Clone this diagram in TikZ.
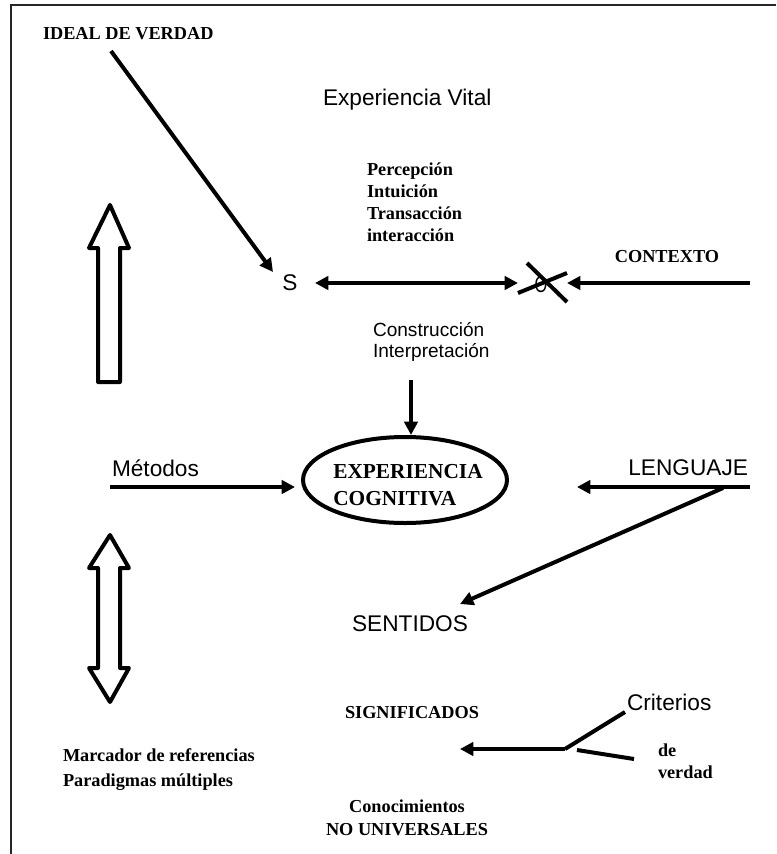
\documentclass[tikz,border=0pt]{standalone}
\usepackage{fontspec}
\setmainfont{Liberation Serif}
\setsansfont{Liberation Sans}
\usetikzlibrary{arrows.meta,shapes.geometric}

\tikzset{
  lbl/.style={inner sep=0pt, outer sep=0pt},
  serifb/.style={lbl, font=\bfseries\fontsize{13.7}{16.5}\selectfont},
  sanslbl/.style={lbl, font=\sffamily\fontsize{17}{20}\selectfont},
  sanssmall/.style={lbl, font=\sffamily\fontsize{14.3}{15.75}\selectfont},
  heavy/.style={line width=3pt, line cap=butt},
  arr/.style={heavy, -{Triangle[length=10pt,width=10pt]}},
  darr/.style={heavy, {Triangle[length=10pt,width=10pt]}-{Triangle[length=10pt,width=10pt]}},
  hollow/.style={line width=3pt, line join=round, fill=white},
  frameline/.style={line width=1.5pt, draw=black!85},
}

\begin{document}
\begin{tikzpicture}[x=0.75pt, y=-0.75pt]
  \useasboundingbox (0,0) rectangle (776,854);

  % open frame: top and left sides only
  \draw[frameline] (776,5) -- (11,5) -- (11,854);

  % ---- labels ----
  \node[serifb, anchor=west] (ideal) at (43,34) {IDEAL DE VERDAD};
  \node[sanslbl, anchor=west] (vital) at (323,100) {Experiencia Vital};
  \node[serifb, anchor=west, align=left] (proc) at (367,202)
    {Percepción\\Intuición\\Transacción\\interacción};
  \node[sanslbl] (S) at (290,283) {S};
  \node[lbl, font=\sffamily\fontsize{17}{20}\selectfont] (O) at (541,285) {\scalebox{0.72}[1]{O}};
  \node[serifb] (contexto) at (667,257) {CONTEXTO};
  \node[sanssmall, anchor=west, align=left] (constr) at (373,342)
    {Construcción\\Interpretación};

  % central ellipse and its two-line title
  \node[ellipse, draw, line width=3pt, minimum width=153pt, minimum height=64.5pt,
        inner sep=0pt] (expcog) at (405,480) {};
  \node[lbl, align=left, font=\bfseries\fontsize{16}{20}\selectfont]
        (expcogtxt) at (408,485) {EXPERIENCIA\\COGNITIVA};

  \node[sanslbl, anchor=west] (metodos) at (112,468) {Métodos};
  \node[sanslbl, anchor=east] (lenguaje) at (748,468) {LENGUAJE};
  \node[sanslbl] (sentidos) at (410,624) {SENTIDOS};
  \node[serifb] (signif) at (412,713) {SIGNIFICADOS};
  \node[sanslbl, anchor=west] (criterios) at (627,702) {Criterios};
  \node[serifb, anchor=west, align=left] (deverdad) at (658,761) {de\\verdad};
  \node[serifb, align=center, font=\bfseries\fontsize{13.7}{17}\selectfont]
    (conoc) at (407,818) {Conocimientos\\NO UNIVERSALES};
  \node[serifb, anchor=west, align=left, font=\bfseries\fontsize{13.7}{18.75}\selectfont]
    (marcador) at (63,770) {Marcador de referencias\\Paradigmas múltiples};

  % ---- connector end points ----
  \coordinate (idealEnd) at (111,51);
  \coordinate (sTip) at (273,272);
  \coordinate (sRight) at (315,283);
  \coordinate (oLeft) at (518,283);
  \coordinate (oRight) at (567,283);
  \coordinate (ctxEnd) at (750,283);
  \coordinate (constrEnd) at (411,380);
  \coordinate (metStart) at (110,487);
  \coordinate (metTip) at (295,487);
  \coordinate (lenEnd) at (750,487);
  \coordinate (lenTip) at (577,487);
  \coordinate (lenFork) at (723,488);
  \coordinate (sentTip) at (460,604);
  \coordinate (critFork) at (565,749);
  \coordinate (sigTip) at (460,749);
  \coordinate (critUp) at (625,712);
  \coordinate (verA) at (577,750);
  \coordinate (verB) at (634,759);

  % ---- connectors ----
  \draw[arr] (idealEnd) -- (sTip);
  \draw[darr] (sRight) -- (oLeft);
  \draw[arr] (ctxEnd) -- (oRight);
  % crossing strokes over the O
  \draw[heavy] (527,263) -- (567,302);
  \draw[heavy] (518,293) -- (567,273);

  \draw[arr] (constrEnd) -- (constrEnd |- expcog.north);
  \draw[arr] (metStart) -- (metTip);
  \draw[arr] (lenEnd) -- (lenTip);
  \draw[arr] (lenFork) -- (sentTip);

  \draw[arr] (critFork) -- (sigTip);
  \draw[heavy] (critFork) -- (critUp);
  \draw[heavy] (verA) -- (verB);

  % ---- hollow block arrows ----
  \draw[hollow] (110,205) -- (129,248) -- (120,248) -- (120,382)
    -- (98,382) -- (98,248) -- (89,248) -- cycle;
  \draw[hollow] (110,535) -- (129,568) -- (120,568) -- (120,668)
    -- (129,668) -- (110,702) -- (89,668) -- (98,668) -- (98,568)
    -- (89,568) -- cycle;
\end{tikzpicture}
\end{document}
